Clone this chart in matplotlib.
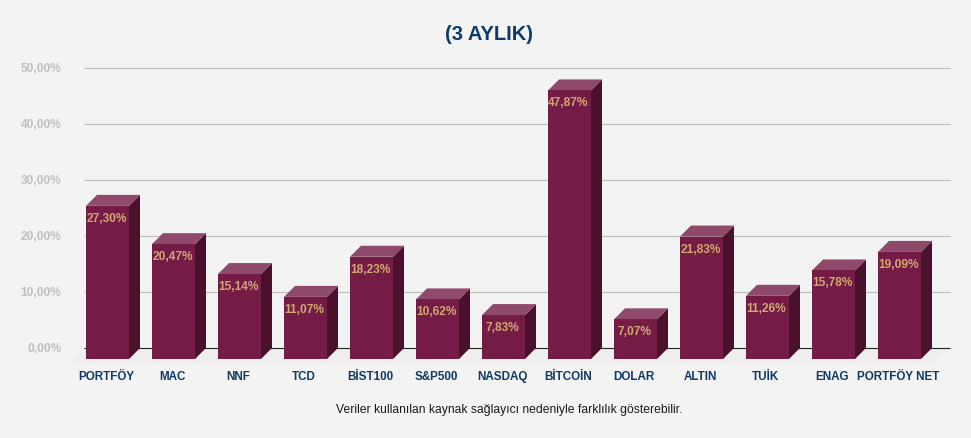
import matplotlib
matplotlib.use("Agg")
import matplotlib.pyplot as plt
from matplotlib.patches import Polygon

categories = ["PORTFÖY", "MAC", "NNF", "TCD", "BİST100", "S&P500", "NASDAQ",
              "BİTCOİN", "DOLAR", "ALTIN", "TUİK", "ENAG", "PORTFÖY NET"]
values = [27.30, 20.47, 15.14, 11.07, 18.23, 10.62, 7.83,
          47.87, 7.07, 21.83, 11.26, 15.78, 19.09]
ticks = [0, 10, 20, 30, 40, 50]
title = "(3 AYLIK)"
note = "Veriler kullanılan kaynak sağlayıcı nedeniyle farklılık gösterebilir."

W, H = 971, 438
PX_X = 66.0      # pixels per category
PX_Y = 5.61      # pixels per percent
X0, Y0 = 107.5, 348.0
BG, NAVY = "#f3f3f3", "#0d3a66"
FRONT, SIDE, TOP = "#741c45", "#4a112c", "#8f4a6b"

plt.rcParams["font.family"] = ["Liberation Sans", "DejaVu Sans"]
fig = plt.figure(figsize=(W / 100, H / 100), dpi=100, facecolor=BG)
ax = fig.add_axes([0, 0, 1, 1], facecolor=BG)
ax.set_xlim(-X0 / PX_X, (W - X0) / PX_X)
ax.set_ylim((Y0 - H) / PX_Y, Y0 / PX_Y)
ax.axis("off")

dx, dy = 11 / PX_X, 11 / PX_Y      # depth of the 3D effect
hw = 21.5 / PX_X                   # half bar width

# floor
x_l, x_r = -24 / PX_X, (950 - X0) / PX_X
ax.add_patch(Polygon([(x_l, 0), (x_r, 0), (x_r - 17 / PX_X, -16 / PX_Y),
                      (x_l - 15 / PX_X, -16 / PX_Y)],
                     fc="#eeeeee", ec="none", zorder=1))

# grid and y labels
for t in ticks:
    ax.plot([x_l, x_r], [t, t], color="#222222" if t == 0 else "#bcbcbc",
            lw=0.8, zorder=2, solid_capstyle="butt")
    ax.annotate(f"{t},00%", (x_l, t), xytext=(-22, -1), textcoords="offset pixels",
                ha="right", va="center", fontsize=8.6, fontweight="bold",
                color="#c0c0c0")

# bars
for i, (c, v) in enumerate(zip(categories, values)):
    l, r = i - hw, i + hw
    base, top = -dy, v - dy
    ax.add_patch(Polygon([(r, base), (r + dx, base + dy), (r + dx, top + dy), (r, top)],
                         fc=SIDE, ec="none", zorder=3))
    ax.add_patch(Polygon([(l, top), (r, top), (r + dx, top + dy), (l + dx, top + dy)],
                         fc=TOP, ec="none", zorder=3))
    ax.add_patch(Polygon([(l, base), (r, base), (r, top), (l, top)],
                         fc=FRONT, ec="none", zorder=4))
    ax.annotate(f"{v:.2f}".replace(".", ",") + "%", (i, v),
                xytext=(-1, -24), textcoords="offset pixels",
                ha="center", va="center", fontsize=8.6, fontweight="bold",
                color="#d0a870", zorder=5)
    ax.annotate(c, (i, 0), xytext=(-1.5, -29), textcoords="offset pixels",
                ha="center", va="center", fontsize=8.4, fontweight="bold",
                color=NAVY, zorder=5)

fig.text(489 / W, 1 - 34.5 / H, title, ha="center", va="center",
         fontsize=14.5, fontweight="bold", color=NAVY)
fig.text(509 / W, 1 - 409.5 / H, note, ha="center", va="center",
         fontsize=8.75, color="#1a1a1a")
fig.savefig("out.png", dpi=100, facecolor=BG)
